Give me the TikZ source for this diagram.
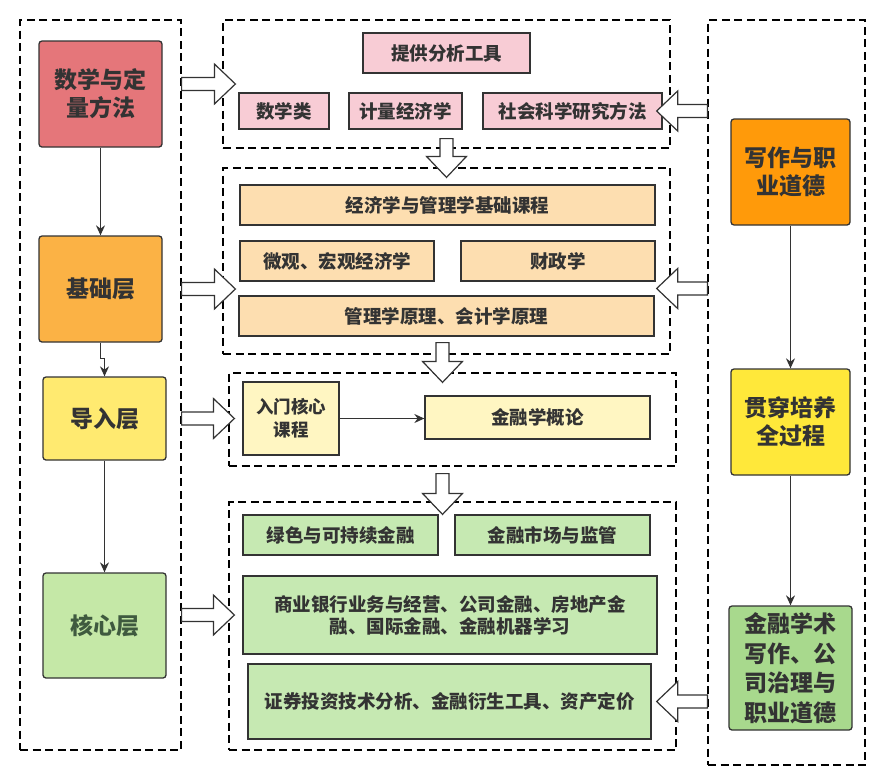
\documentclass[tikz,border=0pt]{standalone}
\usepackage{fontspec}
\newfontfamily\cjk{Noto Sans CJK SC}
\usetikzlibrary{arrows.meta,calc}

\definecolor{ink}{HTML}{333333}
\definecolor{redq}{HTML}{E5767A}
\definecolor{orangeb}{HTML}{FBB245}
\definecolor{yellowd}{HTML}{FFEA70}
\definecolor{greenh}{HTML}{C5E8A7}
\definecolor{greenhtxt}{HTML}{3F5A3F}
\definecolor{orangew}{HTML}{FF9A0A}
\definecolor{yellowg}{HTML}{FFE83A}
\definecolor{greenj}{HTML}{A8D98D}
\definecolor{pinkt}{HTML}{F8CCD5}
\definecolor{peach}{HTML}{FDDEB0}
\definecolor{cream}{HTML}{FFF6C2}
\definecolor{mint}{HTML}{C6E9B2}

% hollow block arrow from #1 to #2
\newcommand{\fatarrow}[2]{%
  \draw[fatarr] let \p1=#1, \p2=#2,
    \n1={veclen(\x2-\x1,\y2-\y1)}, \n2={atan2(\y2-\y1,\x2-\x1)} in
    [shift={(\p1)}, rotate=\n2]
    (0,-6.5) -- (\n1-21,-6.5) -- (\n1-21,-20) -- (\n1,0)
    -- (\n1-21,20) -- (\n1-21,6.5) -- (0,6.5) -- cycle;}

\begin{document}
\begin{tikzpicture}[x=1pt,y=-1pt,
  group/.style={draw=black, dash pattern=on 8pt off 4.5pt, line width=1.2pt,
    minimum width=#1, inner sep=0pt},
  bignode/.style={draw=ink, line width=1.3pt, rounded corners=3pt, align=center,
    text=ink, font=\cjk\bfseries\fontsize{23}{28}\selectfont, inner sep=0pt},
  course/.style={draw=ink, line width=1.3pt, align=center, text=ink,
    font=\cjk\bfseries\fontsize{18.5}{22}\selectfont, inner sep=0pt},
  conn/.style={draw=ink, line width=1.2pt, -{Stealth[length=10pt,width=9pt]}},
  fatarr/.style={draw=ink, fill=white, line width=1.2pt, line join=miter}]
  \useasboundingbox (0,0) rectangle (875,772);

  % Draw the dashed groups
  \node[group=161, minimum height=730] (leftgrp) at (100.5,385) {};
  \node[group=447, minimum height=128] (grp1) at (446.5,84) {};
  \node[group=447, minimum height=186] (grp2) at (446.5,261) {};
  \node[group=447, minimum height=93] (grp3) at (452.5,419.5) {};
  \node[group=447, minimum height=248] (grp4) at (452.5,626) {};
  \node[group=157, minimum height=745] (rightgrp) at (786.5,392.5) {};

  % Left column
  \node[bignode, fill=redq, minimum width=123, minimum height=106] (mathq) at (100.5,94) {数学与定\\量方法};
  \node[bignode, fill=orangeb, minimum width=123, minimum height=106] (jichu) at (100.5,289) {基础层};
  \node[bignode, fill=yellowd, minimum width=123, minimum height=83] (daoru) at (104.5,418.5) {导入层};
  \node[bignode, fill=greenh, text=greenhtxt, minimum width=123, minimum height=105] (hexin) at (104.5,625.5) {核心层};

  \draw[conn] (mathq) -- (jichu);
  \draw[conn] (jichu.south) -- ++(0,16) -| (daoru.north);
  \draw[conn] (daoru) -- (hexin);

  % Right column
  \node[bignode, fill=orangew, minimum width=119, minimum height=106] (xiezuo) at (790.5,172) {写作与职\\业道德};
  \node[bignode, fill=yellowg, minimum width=119, minimum height=106] (guanchuan) at (790.5,422) {贯穿培养\\全过程};
  \node[bignode, fill=greenj, minimum width=123, minimum height=124, font=\cjk\bfseries\fontsize{23}{29.5}\selectfont] (xueshu) at (790.5,668) {金融学术\\写作、公\\司治理与\\职业道德};

  \draw[conn] (xiezuo) -- (guanchuan);
  \draw[conn] (guanchuan) -- (xueshu);

  % Tools
  \node[course, fill=pinkt, minimum width=167, minimum height=40] (tool) at (446.5,53) {提供分析工具};
  \node[course, fill=pinkt, minimum width=90, minimum height=36] (shuxue) at (284,111) {数学类};
  \node[course, fill=pinkt, minimum width=113, minimum height=36] (jiliang) at (405.5,111) {计量经济学};
  \node[course, fill=pinkt, minimum width=179, minimum height=36] (shehui) at (572.5,111) {社会科学研究方法};

  % Basic courses
  \node[course, fill=peach, minimum width=415, minimum height=40] (jjgl) at (447.5,205) {经济学与管理学基础课程};
  \node[course, fill=peach, minimum width=194, minimum height=40] (weiguan) at (337,261) {微观、宏观经济学};
  \node[course, fill=peach, minimum width=194, minimum height=40] (caizheng) at (558,261) {财政学};
  \node[course, fill=peach, minimum width=415, minimum height=40] (guanli) at (446.5,316) {管理学原理、会计学原理};

  % Introduction
  \node[course, fill=cream, minimum width=96, minimum height=73, font=\cjk\bfseries\fontsize{17.5}{23}\selectfont] (rumen) at (291,418.5) {入门核心\\课程};
  \node[course, fill=cream, minimum width=225, minimum height=43] (gailun) at (537.5,417.5) {金融学概论};
  \draw[conn] (rumen.east) -- (rumen.east -| gailun.west);

  % Core courses
  \node[course, fill=mint, minimum width=195, minimum height=40] (lvse) at (340.5,535) {绿色与可持续金融};
  \node[course, fill=mint, minimum width=195, minimum height=40] (shichang) at (552.5,535) {金融市场与监管};
  \node[course, fill=mint, minimum width=414, minimum height=78] (shangye) at (450,615) {商业银行业务与经营、公司金融、房地产金\\融、国际金融、金融机器学习};
  \node[course, fill=mint, minimum width=403, minimum height=75] (zhengquan) at (449.5,701.5) {证券投资技术分析、金融衍生工具、资产定价};

  % Hollow arrows
  \fatarrow{(leftgrp.east |- grp1.west)}{($(grp1.west)+(13,0)$)}
  \fatarrow{(leftgrp.east |- jichu)}{($(grp2.west |- jichu)+(13,0)$)}
  \fatarrow{(leftgrp.east |- daoru)}{($(grp3.west |- daoru)+(6,0)$)}
  \fatarrow{(leftgrp.east |- shangye)}{($(grp4.west |- shangye)+(6,0)$)}
  \coordinate (midr) at ($(caizheng.south east)!0.5!(guanli.north east)+(1.5,0)$);
  \fatarrow{(rightgrp.west |- shehui)}{($(shehui.east)+(-6,0)$)}
  \fatarrow{(rightgrp.west |- midr)}{(midr)}
  \fatarrow{(rightgrp.west |- zhengquan)}{($(zhengquan.east)+(5,0)$)}
  \fatarrow{($(grp1.south)+(0,-10)$)}{($(grp2.north)+(0,10)$)}
  \fatarrow{($(grp2.south)+(-4,-12)$)}{($(grp3.north)+(-10,10)$)}
  \fatarrow{($(grp3.south)+(-10,7)$)}{($(grp4.north)+(-10,13)$)}
\end{tikzpicture}
\end{document}
